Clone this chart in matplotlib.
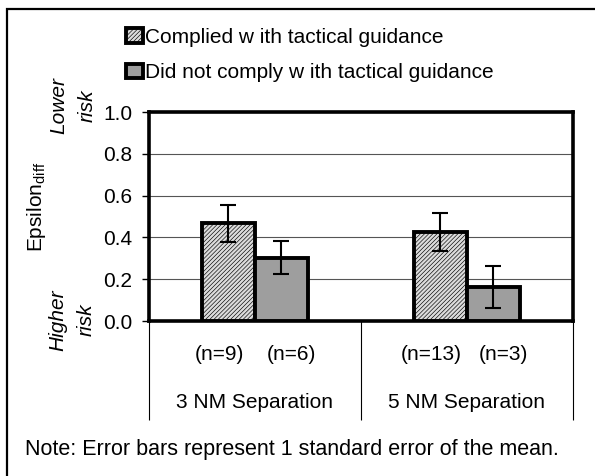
import numpy as np
import matplotlib
matplotlib.use("Agg")
import matplotlib.pyplot as plt
from matplotlib.patches import Rectangle

plt.rcParams['font.family'] = ['Liberation Sans', 'DejaVu Sans']
plt.rcParams['hatch.linewidth'] = 0.45

# ---- data ----
groups = ['3 NM Separation', '5 NM Separation']
series = ['Complied w ith tactical guidance', 'Did not comply w ith tactical guidance']
complied = [0.467, 0.427]
complied_se = [0.087, 0.09]
not_complied = [0.303, 0.162]
not_complied_se = [0.08, 0.102]
n_complied = ['(n=9)', '(n=13)']
n_not = ['(n=6)', '(n=3)']
yticks = [0.0, 0.2, 0.4, 0.6, 0.8, 1.0]

fs = 15
x = np.arange(len(groups))
w = 0.25

fig = plt.figure(figsize=(5.95, 4.76), dpi=100)
ax = fig.add_axes([0.2504, 0.3256, 0.7126, 0.4391])

b1 = ax.bar(x - w/2, complied, w, color='#dcdcdc', hatch='////////',
            edgecolor='black', linewidth=2.8, zorder=3)
b2 = ax.bar(x + w/2, not_complied, w, color='#9e9e9e',
            edgecolor='black', linewidth=2.8, zorder=3)
ax.errorbar(x - w/2, complied, yerr=complied_se, fmt='none', ecolor='black',
            elinewidth=1.5, capsize=6, capthick=1.5, zorder=4)
ax.errorbar(x + w/2, not_complied, yerr=not_complied_se, fmt='none', ecolor='black',
            elinewidth=1.5, capsize=6, capthick=1.5, zorder=4)

ax.set_xlim(-0.5, 1.5)
ax.set_ylim(0, 1.0)
ax.set_yticks(yticks)
ax.set_yticklabels(['%.1f' % t for t in yticks], fontsize=fs)
ax.yaxis.grid(True, color='#555555', linewidth=0.8)
ax.set_axisbelow(True)
for s in ax.spines.values():
    s.set_linewidth(2.6)
ax.tick_params(axis='y', direction='out', length=5, width=1, pad=7)

# category separators below the axis
ax.set_xticks([-0.5, 0.5, 1.5])
ax.set_xticklabels([])
ax.tick_params(axis='x', direction='out', length=71, width=0.8, color='black')

tr = ax.get_xaxis_transform()
for i in range(len(groups)):
    ax.text(x[i] - 0.17, -0.158, n_complied[i], transform=tr, ha='center', va='center', fontsize=fs)
    ax.text(x[i] + 0.17, -0.158, n_not[i], transform=tr, ha='center', va='center', fontsize=fs)
    ax.text(x[i], -0.388, groups[i], transform=tr, ha='center', va='center', fontsize=fs)

fig.text(37/595, 1 - 207/476, r'Epsilon$_{\mathregular{diff}}$', rotation=90,
         ha='center', va='center', fontsize=fs)

fig.text(73/595, 1 - 106/476, 'Lower\nrisk', rotation=90, style='italic',
         ha='center', va='center', fontsize=fs, linespacing=1.65)
fig.text(72/595, 1 - 320/476, 'Higher\nrisk', rotation=90, style='italic',
         ha='center', va='center', fontsize=fs, linespacing=1.65)

fig.legend([b1, b2], series, loc='upper left', bbox_to_anchor=(126/595, 1 - 28/476),
           frameon=False, fontsize=fs, handlelength=0.8, handleheight=0.7,
           handletextpad=0.12, labelspacing=0.78, borderaxespad=0, borderpad=0)

fig.text(0.49, 1 - 449/476, 'Note: Error bars represent 1 standard error of the mean.',
         ha='center', va='center', fontsize=15.5)

# outer frame (right and bottom edges fall outside the image)
fig.patches.append(Rectangle((7/595, -0.1), 1.2, 0.1 + 1 - 9/476, fill=False,
                             edgecolor='black', linewidth=1.6,
                             transform=fig.transFigure, figure=fig))

fig.savefig('out.png', dpi=100)
